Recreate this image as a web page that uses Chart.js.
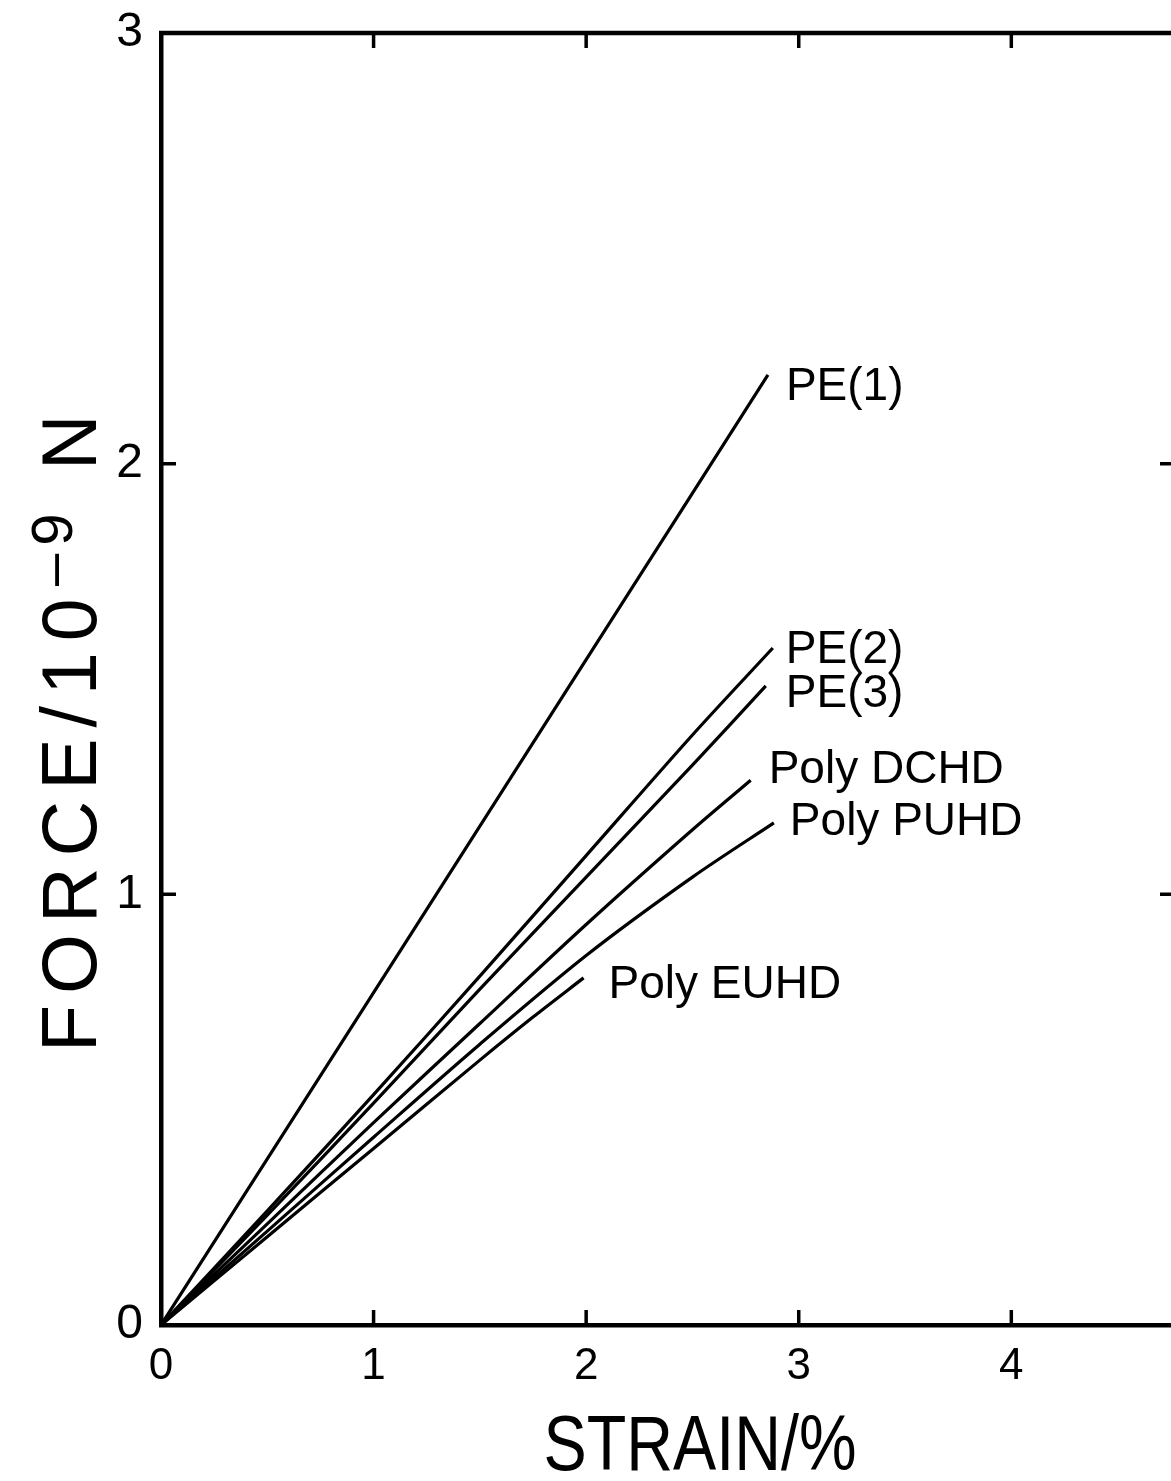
<!DOCTYPE html>
<html>
<head>
<meta charset="utf-8">
<script src="https://cdn.jsdelivr.net/npm/chart.js@4.4.1/dist/chart.umd.min.js"></script>
<style>
  html, body { margin: 0; padding: 0; background: #fff; overflow: hidden; }
  #wrap { position: absolute; left: 0; top: 0; width: 1190px; height: 1481px; }
</style>
</head>
<body>
<div id="wrap"><canvas id="c" width="1190" height="1481"></canvas></div>
<script>
// ---- data (strain in %, force in 10^-9 N) ----
const xTickValues = [0, 1, 2, 3, 4];
const yTickValues = [0, 1, 2, 3];
const xTitle = 'STRAIN/%';
const yTitleMain = 'FORCE/10';
const yTitleSup = '–9';
const yTitleEnd = 'N';

const seriesNames = ['PE(1)', 'PE(2)', 'PE(3)', 'Poly DCHD', 'Poly PUHD', 'Poly EUHD'];

const pe1Strain = [0, 1.0, 2.0, 2.855];
const pe1Force  = [0, 0.772, 1.545, 2.206];

const pe2Strain = [0, 0.5, 1.0, 1.5, 2.0, 2.5, 2.878];
const pe2Force  = [0, 0.265, 0.535, 0.81, 1.09, 1.37, 1.572];

const pe3Strain = [0, 0.5, 1.0, 1.5, 2.0, 2.5, 2.845];
const pe3Force  = [0, 0.255, 0.515, 0.78, 1.04, 1.30, 1.484];

const dchdStrain = [0, 0.5, 1.0, 1.5, 2.0, 2.5, 2.774];
const dchdForce  = [0, 0.235, 0.47, 0.70, 0.93, 1.15, 1.265];

const puhdStrain = [0, 0.5, 1.0, 1.5, 2.0, 2.5, 2.883];
const puhdForce  = [0, 0.218, 0.436, 0.652, 0.858, 1.04, 1.166];

const euhdStrain = [0, 0.5, 1.0, 1.5, 1.75, 1.988];
const euhdForce  = [0, 0.205, 0.41, 0.615, 0.715, 0.806];

// ---- build datasets ----
const strainArrays = [pe1Strain, pe2Strain, pe3Strain, dchdStrain, puhdStrain, euhdStrain];
const forceArrays  = [pe1Force, pe2Force, pe3Force, dchdForce, puhdForce, euhdForce];
// label offsets in pixels from each curve's last point (style, not data)
const labelOffsets = [[18, 25], [13, 15], [20, 21], [18, 3], [16, 12], [25, 20]];

const datasets = seriesNames.map((name, i) => ({
  label: name,
  data: strainArrays[i].map((x, j) => ({ x: x, y: forceArrays[i][j] })),
  borderColor: '#000',
  borderWidth: 3.2,
  pointRadius: 0,
  fill: false,
  tension: 0.3
}));

const FONT = '"Liberation Sans", Arial, sans-serif';

const decorPlugin = {
  id: 'decor',
  afterDraw(chart) {
    const ctx = chart.ctx;
    const a = chart.chartArea;
    const xs = chart.scales.x, ys = chart.scales.y;
    ctx.save();
    ctx.strokeStyle = '#000';
    ctx.lineCap = 'butt';
    // top and right frame
    ctx.lineWidth = 4.5;
    ctx.beginPath();
    ctx.moveTo(a.left - 2, a.top);
    ctx.lineTo(a.right, a.top);
    ctx.lineTo(a.right, a.bottom);
    ctx.stroke();
    // inward ticks
    const tl = 15;
    ctx.lineWidth = 3.5;
    ctx.beginPath();
    xTickValues.forEach(v => {
      if (v === 0) return;
      const px = xs.getPixelForValue(v);
      ctx.moveTo(px, a.bottom); ctx.lineTo(px, a.bottom - tl);
      ctx.moveTo(px, a.top); ctx.lineTo(px, a.top + tl);
    });
    yTickValues.forEach(v => {
      if (v === 0 || v === 3) return;
      const py = ys.getPixelForValue(v);
      ctx.moveTo(a.left, py); ctx.lineTo(a.left + tl, py);
      ctx.moveTo(a.right, py); ctx.lineTo(a.right - tl, py);
    });
    ctx.stroke();

    // curve labels
    ctx.fillStyle = '#000';
    ctx.font = '46px ' + FONT;
    ctx.textBaseline = 'alphabetic';
    ctx.textAlign = 'left';
    seriesNames.forEach((name, i) => {
      const n = strainArrays[i].length - 1;
      const px = xs.getPixelForValue(strainArrays[i][n]);
      const py = ys.getPixelForValue(forceArrays[i][n]);
      ctx.fillText(name, px + labelOffsets[i][0], py + labelOffsets[i][1]);
    });

    // x title
    ctx.save();
    ctx.font = '78px ' + FONT;
    const sx = 0.83;
    const w = ctx.measureText(xTitle).width * sx;
    ctx.translate(700 - w / 2, 1470);
    ctx.scale(sx, 1);
    ctx.fillText(xTitle, 0, 0);
    ctx.restore();

    // y title (rotated, with superscript)
    ctx.save();
    ctx.translate(96, 1052);
    ctx.rotate(-Math.PI / 2);
    let u = 0;
    const drawSpaced = (txt, font, v, spacing) => {
      ctx.font = font;
      for (const ch of txt) {
        ctx.fillText(ch, u, v);
        u += ctx.measureText(ch).width + spacing;
      }
    };
    drawSpaced(yTitleMain, '77px ' + FONT, 0, 11);
    u = 466;
    drawSpaced(yTitleSup, '58px ' + FONT, -24, 8);
    u = 582;
    drawSpaced(yTitleEnd, '77px ' + FONT, 0, 0);
    ctx.restore();

    ctx.restore();
  }
};

new Chart(document.getElementById('c'), {
  type: 'line',
  data: { datasets: datasets },
  options: {
    responsive: false,
    animation: false,
    layout: { padding: { left: 0, top: 33, right: 15, bottom: 0 } },
    plugins: { legend: { display: false }, tooltip: { enabled: false } },
    scales: {
      x: {
        type: 'linear',
        min: 0,
        max: 4.77,
        afterBuildTicks: s => { s.ticks = xTickValues.map(v => ({ value: v })); },
        afterFit: s => { s.height = 156; s.paddingLeft = 0; s.paddingRight = 0; },
        grid: { display: false, drawTicks: false },
        border: { display: true, color: '#000', width: 4.5 },
        ticks: {
          color: '#000',
          padding: 20,
          font: { family: FONT, size: 44, lineHeight: 1 },
          callback: v => String(v)
        }
      },
      y: {
        type: 'linear',
        min: 0,
        max: 3,
        afterBuildTicks: s => { s.ticks = yTickValues.map(v => ({ value: v })); },
        afterFit: s => { s.width = 161; s.paddingTop = 0; s.paddingBottom = 0; },
        grid: { display: false, drawTicks: false },
        border: { display: true, color: '#000', width: 4.5 },
        ticks: {
          color: '#000',
          padding: 18,
          font: { family: FONT, size: 48, lineHeight: 1 },
          callback: v => String(v)
        }
      }
    }
  },
  plugins: [decorPlugin]
});
</script>
</body>
</html>
